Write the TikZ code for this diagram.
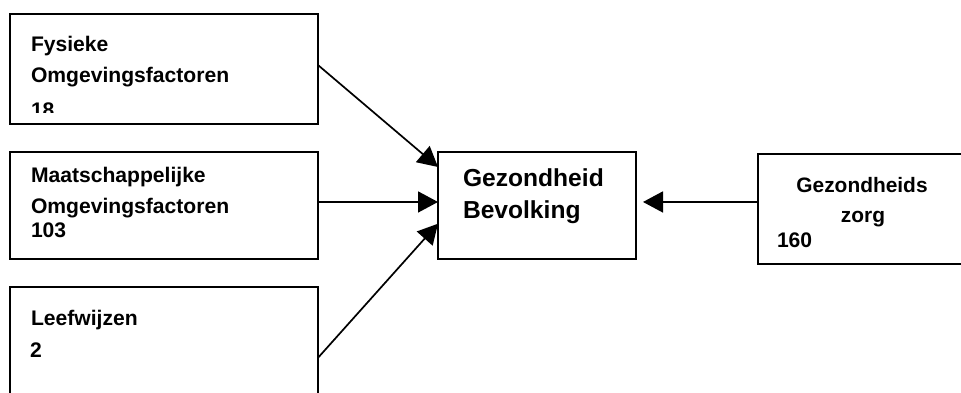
\documentclass[tikz,border=0pt]{standalone}
\usepackage{fontspec}
\setmainfont{Liberation Sans}
\usetikzlibrary{arrows.meta,calc}
\begin{document}
\begin{tikzpicture}[x=1pt,y=-1pt,
  box/.style={draw=black,line width=1.9pt,rectangle,inner sep=0pt,outer sep=0pt},
  txt/.style={anchor=base west,inner sep=0pt,outer sep=0pt,font=\fontsize{21.1}{24}\selectfont\bfseries},
  ctxt/.style={anchor=base,inner sep=0pt,outer sep=0pt,font=\fontsize{20.9}{24}\selectfont\bfseries},
  bigtxt/.style={anchor=base west,inner sep=0pt,outer sep=0pt,font=\fontsize{24.6}{28}\selectfont\bfseries},
  link/.style={line width=1.7pt,-{Triangle[length=20pt,width=21pt]}}]
  \useasboundingbox (0,0) rectangle (961,392);
  \clip (0,0) rectangle (961,392);

  % boxes
  \node[box,minimum width=308pt,minimum height=110pt] (fys) at (164,69) {};
  \node[box,minimum width=308pt,minimum height=107pt] (maa) at (164,205.5) {};
  \node[box,minimum width=308pt,minimum height=120pt] (lee) at (164,347) {};
  \node[box,minimum width=198pt,minimum height=107pt] (gez) at (537,205.5) {};
  \node[box,minimum width=212pt,minimum height=110pt] (zorg) at (864,209) {};

  % box texts
  \begin{scope}
    \clip (10,14) rectangle (318,112);
    \node[txt] (fysA) at (31,51) {Fysieke};
    \node[txt] (fysB) at (31,82) {Omgevingsfactoren};
    \node[txt] (fysC) at (31,117) {18};
  \end{scope}
  \node[txt] (maaA) at (31,182) {Maatschappelijke};
  \node[txt] (maaB) at (31,213) {Omgevingsfactoren};
  \node[txt] (maaC) at (31,237) {103};
  \node[txt] (leeA) at (31,325) {Leefwijzen};
  \node[txt] (leeB) at (30,357) {2};
  \node[bigtxt] (gezA) at (463,186) {Gezondheid};
  \node[bigtxt] (gezB) at (463,218) {Bevolking};
  \node[ctxt] (zorgA) at (862,192) {Gezondheids};
  \node[ctxt] (zorgB) at (863,222) {zorg};
  \node[txt] (zorgC) at (777,247) {160};

  % connectors
  \draw[link] ($(fys.north east)!0.464!(fys.south east)$) -- ($(gez.north west)!0.14!(gez.south west)$);
  \draw[link] ($(maa.north east)!0.467!(maa.south east)$) -- ($(gez.north west)!0.467!(gez.south west)$);
  \draw[link] ($(lee.north east)!0.59!(lee.south east)$) -- ($(gez.north west)!0.67!(gez.south west)$);
  \draw[link] ($(zorg.north west)!0.436!(zorg.south west)$) -- ($(gez.north east)!0.467!(gez.south east)+(7,0)$);
\end{tikzpicture}
\end{document}
